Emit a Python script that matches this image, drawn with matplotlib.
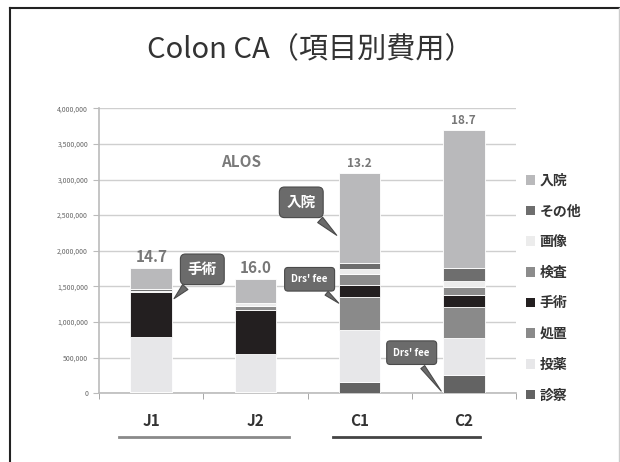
import matplotlib
matplotlib.use('Agg')
import matplotlib.pyplot as plt
from matplotlib.lines import Line2D
from matplotlib.patches import Patch
import matplotlib.transforms as mtransforms

plt.rcParams['font.family'] = ['Noto Sans CJK JP', 'DejaVu Sans']

# cost items per case (yen), bottom of the stack first
groups = ['J1', 'J2', 'C1', 'C2']
alos = ['14.7', '16.0', '13.2', '18.7']
items = ['診察', '投薬', '処置', '手術', '検査', '画像', 'その他', '入院']
shinsatsu = [15000, 22000, 163000, 257000]
touyaku = [770000, 530000, 725000, 520000]
shochi = [0, 0, 458000, 430000]
shujutsu = [635000, 617000, 173000, 173000]
kensa = [20000, 60000, 154000, 108000]
gazou = [0, 33000, 66000, 92000]
sonota = [20000, 0, 93000, 183000]
nyuin = [300000, 340000, 1262000, 1931000]
yticks = [0, 500000, 1000000, 1500000, 2000000, 2500000, 3000000, 3500000, 4000000]

series = [shinsatsu, touyaku, shochi, shujutsu, kensa, gazou, sonota, nyuin]
colors = ['#636363', '#e7e7e9', '#8a8a8a', '#231f20', '#8c8c8c', '#ececec', '#6e6e6e', '#b9b9bb']

fig = plt.figure(figsize=(6.2, 4.62), dpi=100)
ax = fig.add_axes([0.160, 0.1487, 0.672, 0.617])

x = list(range(len(groups)))
bottom = [0] * len(groups)
for vals, col in zip(series, colors):
    ax.bar(x, vals, width=0.4, bottom=bottom, color=col, edgecolor='white', linewidth=0.6, zorder=3)
    bottom = [b + v for b, v in zip(bottom, vals)]

# ALOS above each bar
label_sizes = [11, 11, 8.5, 8.5]
for i, (tot, lab, fs) in enumerate(zip(bottom, alos, label_sizes)):
    ax.text(i, tot + 40000, lab, ha='center', va='bottom', fontsize=fs,
            fontweight='bold', color='#777777')
ax.text(0.86, 3250000, 'ALOS', ha='center', va='center', fontsize=11,
        fontweight='bold', color='#7a7a7a')

ax.set_xlim(-0.5, 3.5)
ax.set_ylim(0, 4000000)
ax.set_yticks(yticks)
ax.set_yticklabels([f'{v:,}' for v in yticks], fontsize=5, color='#666666')
ax.set_xticks(x)
ax.set_xticklabels(groups, fontsize=11, fontweight='bold', color='#333333')
ax.set_xticks([-0.5, 0.5, 1.5, 2.5, 3.5], minor=True)
ax.tick_params(axis='x', which='major', length=0, pad=14)
ax.tick_params(axis='x', which='minor', length=4, color='#999999', direction='out')
ax.tick_params(axis='y', length=4, color='#bbbbbb', pad=4)
ax.grid(axis='y', color='#cfcfcf', linewidth=1, zorder=0)
for s in ['top', 'right']:
    ax.spines[s].set_visible(False)
ax.spines['left'].set_color('#bbbbbb')
ax.spines['bottom'].set_color('#bbbbbb')
ax.spines['left'].set_linewidth(1.2)
ax.spines['bottom'].set_linewidth(1.2)

# callouts
arrow = dict(arrowstyle='wedge,tail_width=0.5,shrink_factor=0.5', fc='#6b6b6b', ec='#4a4a4a', lw=0.8)
callouts = [
    ('手術', (0.2, 1300000), (0.49, 1740000), 10.5, 0.5),
    ('入院', (1.8, 2190000), (1.44, 2680000), 10.5, 0.5),
    ("Drs' fee", (1.82, 1240000), (1.52, 1600000), 7, 0.7),
    ("Drs' fee", (2.8, 0), (2.5, 570000), 7, 0.7),
]
for txt, xy, xytext, fs, pad in callouts:
    box = dict(boxstyle=f'round,pad={pad},rounding_size=0.35', fc='#6b6b6b', ec='#4a4a4a', lw=0.8)
    ax.annotate(txt, xy=xy, xytext=xytext, ha='center', va='center', fontsize=fs,
                fontweight='bold', color='white', bbox=box, arrowprops=arrow, zorder=5)

# group underlines
trans = mtransforms.blended_transform_factory(ax.transData, ax.transAxes)
ax.plot([-0.31, 1.32], [-0.153, -0.153], transform=trans, color='#8a8a8a', lw=2, clip_on=False)
ax.plot([1.74, 3.16], [-0.153, -0.153], transform=trans, color='#444444', lw=2, clip_on=False)

handles = [Patch(facecolor=c, edgecolor='none') for c in colors][::-1]
leg = ax.legend(handles, items[::-1], loc='upper left', bbox_to_anchor=(1.01, 0.79),
                frameon=False, fontsize=10, labelspacing=1.2, handlelength=0.7,
                handleheight=0.7, handletextpad=0.3, borderaxespad=0)
for t in leg.get_texts():
    t.set_fontweight('bold')
    t.set_color('#333333')

fig.text(0.5, 0.892, 'Colon CA（項目別費用）', ha='center', va='center', fontsize=21, color='#333333')

# slide frame
fig.add_artist(Line2D([9.5 / 620, 9.5 / 620], [0, 1 - 8 / 462], transform=fig.transFigure, color='#222222', lw=1.5))
fig.add_artist(Line2D([9.5 / 620, 1], [1 - 8 / 462, 1 - 8 / 462], transform=fig.transFigure, color='#222222', lw=1.5))
fig.add_artist(Line2D([618.5 / 620, 618.5 / 620], [0, 1 - 8 / 462], transform=fig.transFigure, color='#cccccc', lw=1))

fig.savefig('out.png', dpi=100)
